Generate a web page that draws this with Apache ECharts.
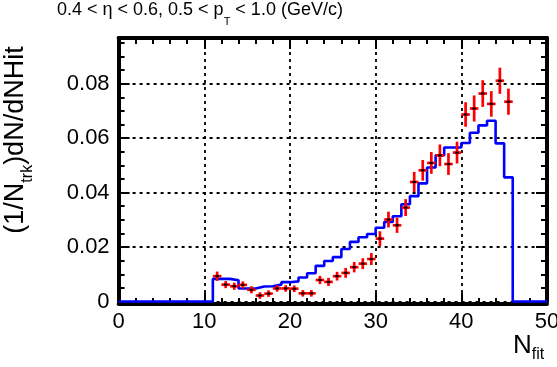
<!DOCTYPE html>
<html><head><meta charset="utf-8">
<script src="https://cdn.jsdelivr.net/npm/echarts@6/dist/echarts.min.js"></script>
<style>html,body{margin:0;padding:0;background:#fff}#c{width:557px;height:367px}</style>
</head><body><div id="c"></div>
<script>
// Histogram (blue, MC): lower bin edges and bin contents
const blueEdges = [0,1,2,3,4,5,6,7,8,9,10,11,12,13,14,15,16,17,18,19,20,21,22,23,24,25,26,27,28,29,30,31,32,33,34,35,36,37,38,39,40,41,42,43,44,45,46,47,48,49,50];
const blueValues = [0,0,0,0,0,0,0,0,0,0,0,
  0.0083,0.0083,0.0078,0.0048,0.0048,0.0055,0.0056,0.0062,0.0071,0.0074,
  0.0088,0.0104,0.0131,0.0149,0.0163,0.0193,0.0219,0.0236,0.0248,0.0271,
  0.0292,0.0313,0.0357,0.0387,0.0434,0.0492,0.0537,0.0566,0.0566,0.0582,
  0.0620,0.0647,0.0664,0.0581,0.0456,0,0,0,0];
// Data points (red)
const redCenters = [11.5,12.5,13.5,14.5,15.5,16.5,17.5,18.5,19.5,20.5,21.5,22.5,23.5,24.5,25.5,26.5,27.5,28.5,29.5,30.5,31.5,32.5,33.5,34.5,35.5,36.5,37.5,38.5,39.5,40.5,41.5,42.5,43.5,44.5,45.5];
const redValues = [0.0093,0.0062,0.0056,0.0061,0.0043,0.0022,0.0029,0.0048,0.0048,0.0047,0.0030,0.0030,
  0.0079,0.0072,0.0093,0.0105,0.0126,0.0139,0.0156,0.0231,0.0301,0.0280,0.0345,0.0439,0.0482,0.0509,
  0.0537,0.0505,0.0547,0.0687,0.0709,0.0764,0.0726,0.0811,0.0734];
const redErrors = [0.0017,0.0013,0.0013,0.0013,0.0013,0.0012,0.0012,0.0012,0.0012,0.0012,0.0012,0.0012,
  0.0015,0.0015,0.0016,0.0018,0.0019,0.0020,0.0022,0.0027,0.0029,0.0028,0.0031,0.0037,0.0038,0.0040,
  0.0040,0.0040,0.0040,0.0045,0.0048,0.0049,0.0047,0.0048,0.0048];
const binHalfWidth = 0.5;
const xMin = 0, xMax = 50, xStep = 10;
const yMin = 0, yMax = 0.0968, yStep = 0.02;

const FONT = 'Liberation Sans, Arial, Helvetica, sans-serif';
const chart = echarts.init(document.getElementById('c'), null, {renderer:'canvas'});

const isMajor = v => Math.abs(v / yStep - Math.round(v / yStep)) < 1e-6;
const gridLine = {show:true, lineStyle:{color:'#000', width:1.8, type:[3,4]}};
const frameLine = {show:true, onZero:false, lineStyle:{color:'#000', width:4}};
const majorTick = {show:true, inside:true, length:11, lineStyle:{color:'#000', width:2}};
const minorTickY = {show:true, inside:true, length:6, lineStyle:{color:'#000', width:2}};

const blueData = blueEdges.map((e, i) => [e, i < blueValues.length ? blueValues[i] : 0]);
const redData = redCenters.map((c, i) => [c, redValues[i], redErrors[i]]);

const option = {
  animation:false,
  backgroundColor:'#fff',
  grid:{left:118.6, top:38, width:428.4, height:263.5, containLabel:false, outerBoundsMode:'none'},
  xAxis:[
    {type:'value', position:'bottom', min:xMin, max:xMax, interval:xStep, offset:2.5,
     axisLine:frameLine, axisTick:majorTick,
     minorTick:{show:true, splitNumber:5, length:6, lineStyle:{color:'#000', width:2}},
     axisLabel:{show:true, margin:7, fontSize:22, color:'#000', fontFamily:FONT},
     splitLine:gridLine},
    {type:'value', position:'top', min:xMin, max:xMax, interval:xStep,
     axisLine:frameLine, axisTick:majorTick,
     minorTick:{show:true, splitNumber:5, length:6, lineStyle:{color:'#000', width:2}},
     axisLabel:{show:false}, splitLine:{show:false}}
  ],
  yAxis:[
    {type:'value', position:'left', min:yMin, max:yMax, interval:yStep,
     axisLine:frameLine, axisTick:majorTick,
     axisLabel:{show:true, margin:9, fontSize:22, color:'#000', fontFamily:FONT,
       formatter: v => isMajor(v) ? (v === 0 ? '0' : v.toFixed(2)) : ''},
     splitLine:gridLine},
    {type:'value', position:'left', min:yMin, max:yMax, interval:yStep/4,
     axisLine:{show:false, onZero:false}, axisTick:minorTickY,
     axisLabel:{show:false}, splitLine:{show:false}},
    {type:'value', position:'right', min:yMin, max:yMax, interval:yStep,
     axisLine:frameLine, axisTick:majorTick,
     axisLabel:{show:false}, splitLine:{show:false}},
    {type:'value', position:'right', min:yMin, max:yMax, interval:yStep/4,
     axisLine:{show:false, onZero:false}, axisTick:minorTickY,
     axisLabel:{show:false}, splitLine:{show:false}}
  ],
  series:[
    {type:'line', name:'MC', xAxisIndex:0, yAxisIndex:0, data:blueData, step:'end', showSymbol:false, symbol:'none',
     lineStyle:{color:'#0000ff', width:2.6}, z:3, clip:false},
    {type:'custom', name:'data', xAxisIndex:0, yAxisIndex:0, data:redData, z:4, clip:false,
     renderItem:(params, api) => {
       const x = api.value(0), y = api.value(1), e = api.value(2);
       const pL = api.coord([x - binHalfWidth, y]);
       const pR = api.coord([x + binHalfWidth, y]);
       const pT = api.coord([x, y + e]);
       const pB = api.coord([x, y - e]);
       const pc = api.coord([x, y]);
       const red = {stroke:'#ff0000', lineWidth:2.7};
       return {type:'group', children:[
         {type:'line', shape:{x1:pL[0], y1:pL[1], x2:pR[0], y2:pR[1]}, style:red},
         {type:'line', shape:{x1:pT[0], y1:pT[1], x2:pB[0], y2:pB[1]}, style:red},
         {type:'line', shape:{x1:pc[0]-1.8, y1:pc[1], x2:pc[0]+1.8, y2:pc[1]}, style:{stroke:'#000', lineWidth:2}}
       ]};
     }}
  ],
  graphic:[
    {type:'text', left:57, top:1, style:{
      text:'{m|0.4 < η < 0.6, 0.5 < p}{s|T}{m| < 1.0 (GeV/c)}', fill:'#000',
      rich:{m:{fontSize:18, fontFamily:FONT, lineHeight:20, verticalAlign:'top', fill:'#000'},
            s:{fontSize:11, fontFamily:FONT, lineHeight:11, padding:[15,0,0,0], verticalAlign:'top', fill:'#000'}}}},
    {type:'text', x:17, y:140, rotation:Math.PI/2, style:{
      text:'{m|(1/N}{s|trk}{m|)dN/dNHit}', align:'center', verticalAlign:'middle', fill:'#000',
      rich:{m:{fontSize:27, fontFamily:FONT, lineHeight:29, verticalAlign:'top', fill:'#000'},
            s:{fontSize:16, fontFamily:FONT, lineHeight:16, padding:[17,0,0,0], verticalAlign:'top', fill:'#000'}}}},
    {type:'text', left:513, top:333, style:{
      text:'{m|N}{s|fit}', fill:'#000',
      rich:{m:{fontSize:26, fontFamily:FONT, lineHeight:28, verticalAlign:'top', fill:'#000'},
            s:{fontSize:16, fontFamily:FONT, lineHeight:16, padding:[14,0,0,0], verticalAlign:'top', fill:'#000'}}}}
  ]
};
chart.setOption(option);
</script>
</body></html>
